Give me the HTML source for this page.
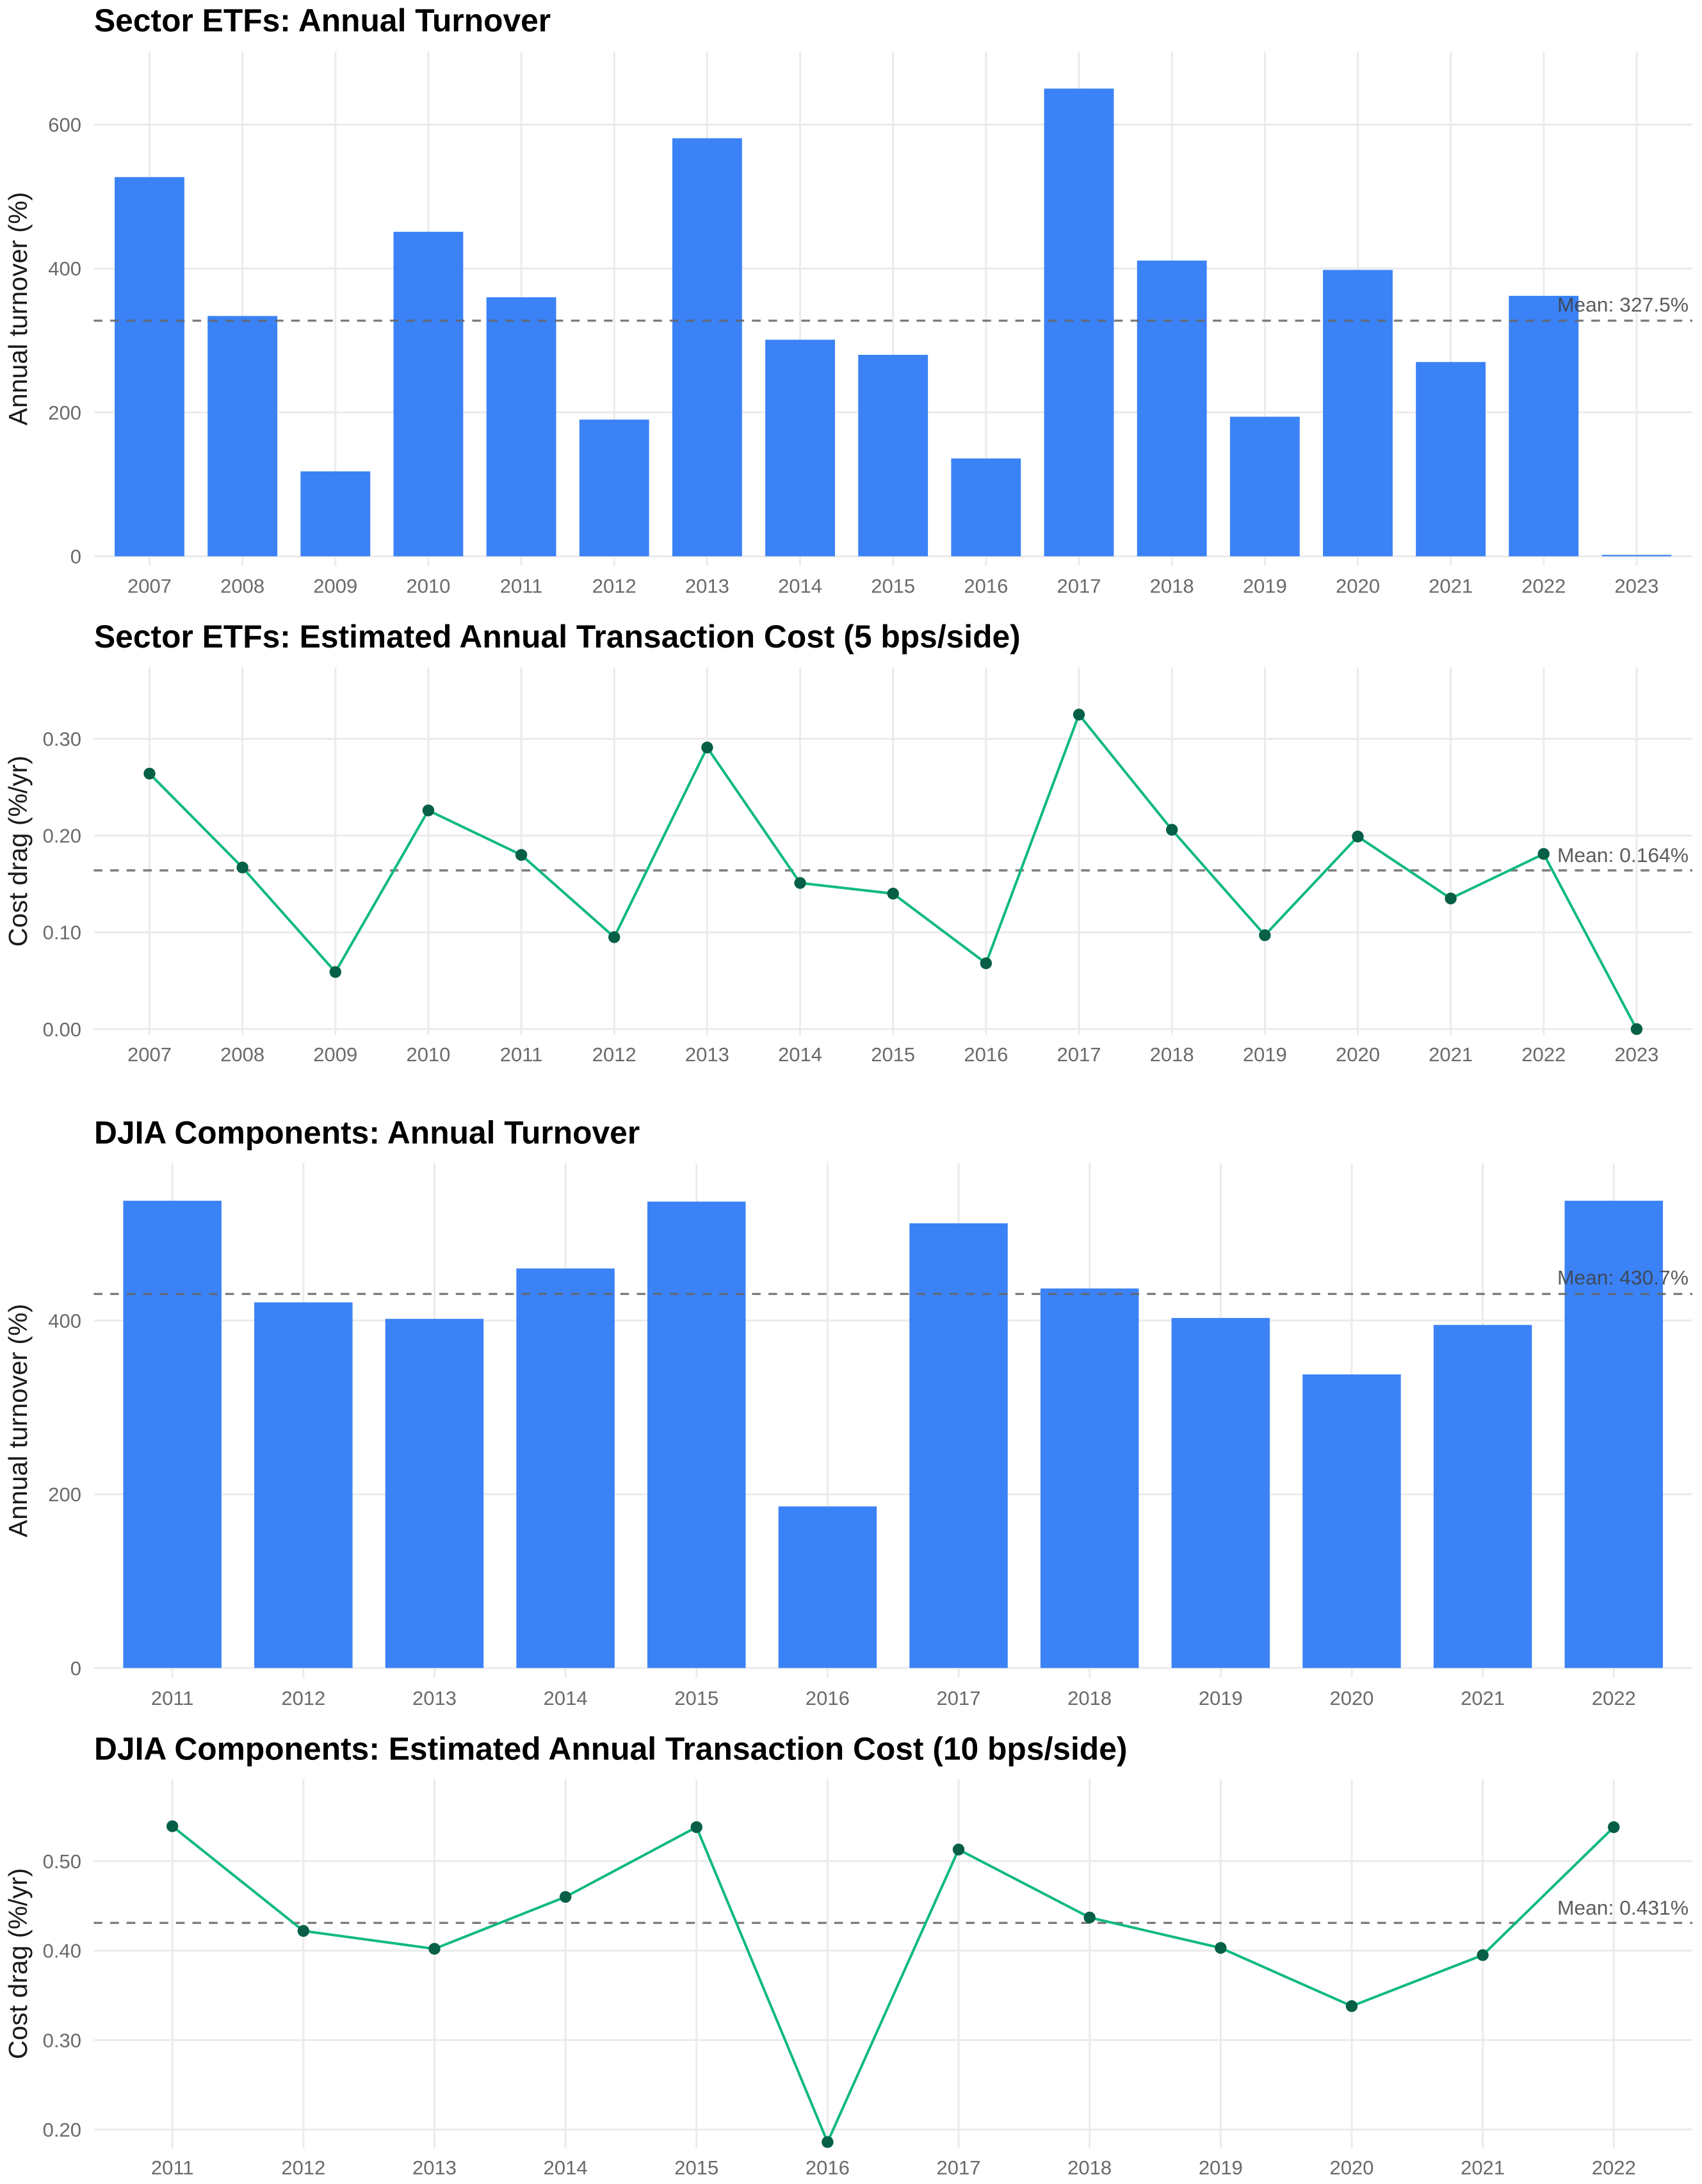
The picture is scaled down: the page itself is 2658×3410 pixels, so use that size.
<!DOCTYPE html>
<html lang="en">
<head>
<meta charset="utf-8">
<title>Sector ETFs and DJIA Components: Turnover and Transaction Cost</title>
<style>
html,body{margin:0;padding:0;background:#fff;}
svg{display:block;font-family:"Liberation Sans",sans-serif;}
</style>
</head>
<body>
<svg id="chart" xmlns="http://www.w3.org/2000/svg" width="2658" height="3410" viewBox="0 0 2658 3410">
<rect x="0" y="0" width="2658" height="3410" fill="#ffffff"></rect>
</svg>
<script>
const etfYears = [2007,2008,2009,2010,2011,2012,2013,2014,2015,2016,2017,2018,2019,2020,2021,2022,2023];
const etfTurnover = [527,334,118,451,360,190,581,301,280,136,650,411,194,398,270,362,2];
const etfCost = [0.264,0.167,0.059,0.226,0.180,0.095,0.291,0.151,0.140,0.068,0.325,0.206,0.097,0.199,0.135,0.181,0.000];
const djiaYears = [2011,2012,2013,2014,2015,2016,2017,2018,2019,2020,2021,2022];
const djiaTurnover = [538,421,402,460,537,186,512,437,403,338,395,538];
const djiaCost = [0.539,0.422,0.402,0.460,0.538,0.186,0.513,0.437,0.403,0.338,0.395,0.538];

const etfTurnoverTicks = [0,200,400,600];
const etfCostTicks = [0,0.1,0.2,0.3];
const djiaTurnoverTicks = [0,200,400];
const djiaCostTicks = [0.2,0.3,0.4,0.5];

const etfTurnoverMean = [327.5];
const etfCostMean = [0.164];
const djiaTurnoverMean = [430.7];
const djiaCostMean = [0.431];

const NS = 'http://www.w3.org/2000/svg';
const root = document.getElementById('chart');
const PLOT_LEFT = 146.4;
const PLOT_RIGHT = 2643;

function shape(parent, tag, attrs, text) {
  const el = document.createElementNS(NS, tag);
  for (const k in attrs) el.setAttribute(k, attrs[k]);
  if (text !== undefined) el.textContent = text;
  parent.appendChild(el);
  return el;
}

function drawPanel(p) {
  const g = shape(root, 'g', {});
  
  

  const n = p.years.length;
  const step = (PLOT_RIGHT - PLOT_LEFT) / (n - 1 + 1.2);
  const xAt = function (i) { return PLOT_LEFT + step * (0.6 + i); };
  const yAt = function (v) { return p.yRefPx - (v - p.yRefVal) * p.pxPerUnit; };

  const title = shape(g, 'text', {x: 147, y: p.titleY, 'font-size': 49.75, 'font-weight': 700, fill: '#000000'}, p.title);
  
  

  p.ticks.forEach(function (t) {
    const gl = shape(g, 'line', {x1: PLOT_LEFT, x2: PLOT_RIGHT, y1: yAt(t), y2: yAt(t), stroke: '#ebebeb', 'stroke-width': 3});
    
    
    const lab = shape(g, 'text', {x: 127, y: yAt(t) + 11, 'font-size': 31, 'text-anchor': 'end', fill: '#6a6a6a'}, t.toFixed(p.tickDigits));
    
    
  });

  p.years.forEach(function (yr, i) {
    const gl = shape(g, 'line', {x1: xAt(i), x2: xAt(i), y1: p.top, y2: p.bottom, stroke: '#ebebeb', 'stroke-width': 3});
    
    
    const lab = shape(g, 'text', {x: xAt(i), y: p.xLabelY, 'font-size': 31, 'text-anchor': 'middle', fill: '#6a6a6a'}, String(yr));
    
    
  });

  const yl = shape(g, 'text', {x: 0, y: 0, 'font-size': 41, 'text-anchor': 'middle', fill: '#1a1a1a', transform: 'translate(42,' + p.yLabelY + ') rotate(-90)'}, p.yLabel);
  
  

  if (p.kind === 'bar') {
    const w = step * 0.75;
    p.values.forEach(function (v, i) {
      const b = shape(g, 'rect', {x: xAt(i) - w / 2, y: yAt(v), width: w, height: yAt(0) - yAt(v), fill: '#3b82f6'});
      
      
    });
  }

  const meanY = yAt(p.mean[0]);
  const ml = shape(g, 'line', {x1: PLOT_LEFT, x2: PLOT_RIGHT, y1: meanY, y2: meanY, stroke: '#666666', 'stroke-opacity': 0.85, 'stroke-width': 3.4, 'stroke-dasharray': '13.5 12.2'});
  
  

  if (p.kind === 'line') {
    const pts = p.values.map(function (v, i) { return xAt(i) + ',' + yAt(v); }).join(' ');
    const ln = shape(g, 'polyline', {points: pts, fill: 'none', stroke: '#10b981', 'stroke-width': 4, 'stroke-linejoin': 'round'});
    
    
    p.values.forEach(function (v, i) {
      const c = shape(g, 'circle', {cx: xAt(i), cy: yAt(v), r: 9.2, fill: '#065f46'});
      
      
    });
  }

  const ann = shape(g, 'text', {x: 2637, y: meanY + p.meanLabelDy, 'font-size': 31.8, 'text-anchor': 'end', fill: '#404040', 'fill-opacity': 0.85}, 'Mean: ' + p.mean[0].toFixed(p.meanDigits) + '%');
  
  
}

drawPanel({id:'etf-turnover', kind:'bar', title:'Sector ETFs: Annual Turnover', yLabel:'Annual turnover (%)',
  years:etfYears, values:etfTurnover, ticks:etfTurnoverTicks, mean:etfTurnoverMean, tickDigits:0, meanDigits:1,
  yRefVal:0, yRefPx:868.6, pxPerUnit:1.1235, top:81, bottom:883, titleY:49, xLabelY:925.5, yLabelY:482, meanLabelDy:-14});

drawPanel({id:'etf-cost', kind:'line', title:'Sector ETFs: Estimated Annual Transaction Cost (5 bps/side)', yLabel:'Cost drag (%/yr)',
  years:etfYears, values:etfCost, ticks:etfCostTicks, mean:etfCostMean, tickDigits:2, meanDigits:3,
  yRefVal:0, yRefPx:1606.8, pxPerUnit:1511, top:1042, bottom:1616, titleY:1011, xLabelY:1657, yLabelY:1329, meanLabelDy:-13});

drawPanel({id:'djia-turnover', kind:'bar', title:'DJIA Components: Annual Turnover', yLabel:'Annual turnover (%)',
  years:djiaYears, values:djiaTurnover, ticks:djiaTurnoverTicks, mean:djiaTurnoverMean, tickDigits:0, meanDigits:1,
  yRefVal:0, yRefPx:2604.3, pxPerUnit:1.356, top:1816, bottom:2619, titleY:1785.5, xLabelY:2662, yLabelY:2218, meanLabelDy:-15});

drawPanel({id:'djia-cost', kind:'line', title:'DJIA Components: Estimated Annual Transaction Cost (10 bps/side)', yLabel:'Cost drag (%/yr)',
  years:djiaYears, values:djiaCost, ticks:djiaCostTicks, mean:djiaCostMean, tickDigits:2, meanDigits:3,
  yRefVal:0.2, yRefPx:3325, pxPerUnit:1397, top:2778, bottom:3354, titleY:2747.5, xLabelY:3395, yLabelY:3066, meanLabelDy:-13});
</script>
</body>
</html>
